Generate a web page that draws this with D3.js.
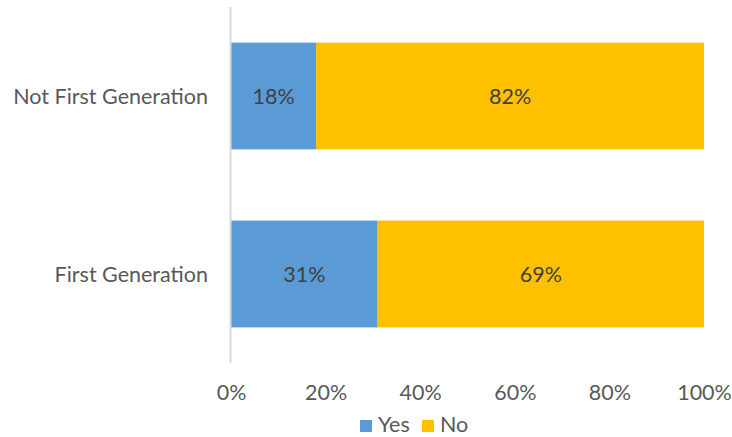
<!DOCTYPE html>
<html><head><meta charset="utf-8">
<script src="https://cdn.jsdelivr.net/npm/d3@7"></script>
<style>body{margin:0;background:#fff}svg{display:block}</style>
</head><body>
<script>
const categories = ["Not First Generation", "First Generation"];
const yesValues = [18, 31];
const noValues = [82, 69];
const seriesNames = ["Yes", "No"];
const seriesColors = ["#5B9BD5", "#FFC000"];
const xTicks = [0, 20, 40, 60, 80, 100];

const W = 732, H = 437;
const font = "Lato, 'Open Sans', sans-serif";
const fs = 21.5;
const svg = d3.select("body").append("svg").attr("width", W).attr("height", H);

const x = d3.scaleLinear().domain([0, 100]).range([231, 704]);
const y = d3.scaleBand().domain(categories).range([7, 363]).paddingInner(0.4).paddingOuter(0.2);

const rows = categories.map((c, i) => ({cat: c, parts: [
  {s: 0, x0: 0, x1: yesValues[i], v: yesValues[i]},
  {s: 1, x0: yesValues[i], x1: yesValues[i] + noValues[i], v: noValues[i]}
]}));

const g = svg.append("g");
rows.forEach(r => {
  r.parts.forEach(p => {
    g.append("rect").attr("x", x(p.x0)).attr("y", y(r.cat))
      .attr("width", x(p.x1) - x(p.x0)).attr("height", y.bandwidth())
      .attr("fill", seriesColors[p.s]);
    g.append("text").attr("x", (x(p.x0) + x(p.x1)) / 2).attr("y", y(r.cat) + y.bandwidth() / 2)
      .attr("dy", "0.39em").attr("text-anchor", "middle")
      .attr("font-family", font).attr("font-size", fs).attr("fill", "#404040")
      .text(p.v + "%");
  });
});

// axis line
svg.append("line").attr("x1", 230.5).attr("x2", 230.5).attr("y1", 7).attr("y2", 363)
  .attr("stroke", "#D9D9D9").attr("stroke-width", 2);

// y axis labels
const yAxis = d3.axisLeft(y).tickSize(0).tickPadding(0);
const ya = svg.append("g").attr("transform", "translate(208,0)").call(yAxis);
ya.select(".domain").remove();
ya.selectAll("text").attr("dy", "0.39em").attr("font-family", font).attr("font-size", fs).attr("fill", "#595959");

// x axis
const xAxis = d3.axisBottom(x).tickValues(xTicks).tickFormat(d => d + "%").tickSize(0).tickPadding(0);
const xa = svg.append("g").attr("transform", "translate(0,385)").call(xAxis);
xa.select(".domain").remove();
xa.selectAll("text").attr("font-family", font).attr("font-size", fs).attr("fill", "#595959");

// legend
const legX = [360, 422];
seriesNames.forEach((n, i) => {
  svg.append("rect").attr("x", legX[i]).attr("y", 420).attr("width", 12).attr("height", 12).attr("fill", seriesColors[i]);
  svg.append("text").attr("x", legX[i] + 18).attr("y", 431.5)
    .attr("font-family", font).attr("font-size", fs).attr("fill", "#595959").text(n);
});
</script>
</body></html>
